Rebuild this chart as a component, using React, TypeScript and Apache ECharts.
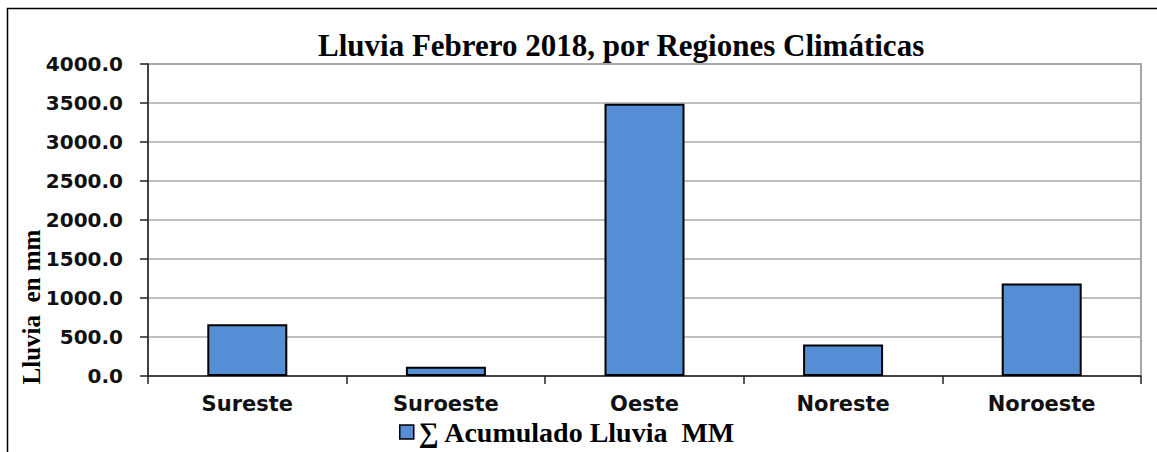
import React, { useEffect, useRef } from "react";
import * as echarts from "echarts";

const categories = ["Sureste", "Suroeste", "Oeste", "Noreste", "Noroeste"];
const rainfall = [665, 120, 3490, 405, 1185];
const seriesName = "∑ Acumulado Lluvia  MM";
const titleText = "Lluvia Febrero 2018, por Regiones Climáticas";
const yAxisTitle = "Lluvia  en mm";
const yMin = 0;
const yMax = 4000;
const yStep = 500;

export default function App() {
  const ref = useRef<HTMLDivElement>(null);
  useEffect(() => {
    document.body.style.margin = "0";
    const chart = echarts.init(ref.current!, null, { renderer: "svg" });
    chart.setOption({
      animation: false,
      backgroundColor: "#ffffff",
      title: {
        text: titleText,
        left: 318,
        top: 30,
        padding: 0,
        textStyle: {
          fontFamily: "Liberation Serif",
          fontWeight: "bold",
          fontSize: 31,
          color: "#000",
        },
      },
      legend: {
        left: 399,
        top: 418,
        padding: 0,
        icon: "rect",
        itemWidth: 14,
        itemHeight: 14,
        itemStyle: { borderColor: "#000", borderWidth: 1.5 },
        textStyle: {
          fontFamily: "Liberation Serif",
          fontWeight: "bold",
          fontSize: 28,
          color: "#000",
        },
        data: [seriesName],
      },
      grid: {
        left: 148,
        top: 64,
        right: 16,
        bottom: 76,
        show: true,
        borderColor: "#a6a6a6",
        borderWidth: 2,
      },
      xAxis: {
        type: "category",
        data: categories,
        axisLine: { lineStyle: { color: "#222", width: 1.5 } },
        axisTick: { show: true, interval: 0, length: 8, lineStyle: { color: "#222", width: 1.5 } },
        axisLabel: {
          interval: 0,
          margin: 17,
          fontFamily: "DejaVu Sans",
          fontWeight: "bold",
          fontSize: 21,
          color: "#111",
        },
      },
      yAxis: {
        type: "value",
        min: yMin,
        max: yMax,
        interval: yStep,
        axisLine: { show: true, lineStyle: { color: "#222", width: 1.5 } },
        axisTick: { show: true, length: 8, lineStyle: { color: "#222", width: 1.5 } },
        splitLine: { lineStyle: { color: "#aaaaaa", width: 1.5 } },
        axisLabel: {
          margin: 25,
          formatter: (v: number) => v.toFixed(1),
          fontFamily: "DejaVu Sans",
          fontWeight: "bold",
          fontSize: 20,
          color: "#111",
        },
      },
      graphic: [
        {
          type: "rect",
          shape: { x: 7.5, y: 8.5, width: 1300, height: 600 },
          style: { fill: "none", stroke: "#000", lineWidth: 1.5 },
          silent: true,
        },
        {
          type: "text",
          x: 31,
          y: 307,
          rotation: Math.PI / 2,
          style: {
            text: yAxisTitle,
            fontFamily: "Liberation Serif",
            fontWeight: "bold",
            fontSize: 25,
            fill: "#000",
            textAlign: "center",
            textVerticalAlign: "middle",
          },
        },
      ],
      series: [
        {
          name: seriesName,
          type: "bar",
          data: rainfall,
          barWidth: 80,
          itemStyle: { color: "#558ed5", borderColor: "#000", borderWidth: 2 },
        },
      ],
    });
    return () => chart.dispose();
  }, []);
  return <div ref={ref} style={{ width: 1157, height: 452 }} />;
}
